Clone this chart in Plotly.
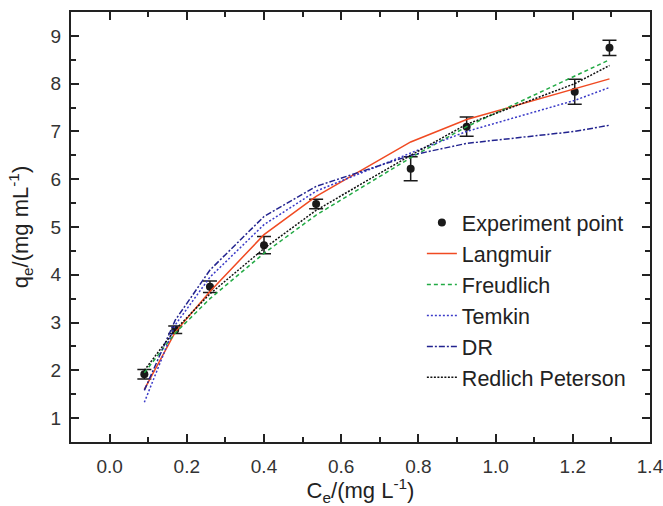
import plotly.graph_objects as go

# Experimental data
ce = [0.09, 0.17, 0.26, 0.40, 0.535, 0.78, 0.925, 1.205, 1.295]
qe = [1.92, 2.85, 3.75, 4.62, 5.48, 6.22, 7.1, 7.83, 8.75]
qe_err = [0.1, 0.08, 0.12, 0.18, 0.1, 0.25, 0.2, 0.26, 0.16]

# Model fits evaluated at the experimental Ce
langmuir = [1.6, 2.8, 3.65, 4.84, 5.64, 6.78, 7.25, 7.9, 8.1]
freundlich = [1.95, 2.78, 3.5, 4.45, 5.25, 6.45, 7.1, 8.15, 8.5]
temkin = [1.33, 2.95, 3.95, 5.05, 5.75, 6.55, 7.0, 7.65, 7.92]
dr = [1.58, 3.05, 4.1, 5.22, 5.85, 6.5, 6.75, 7.0, 7.13]
redlich = [2.0, 2.85, 3.6, 4.55, 5.35, 6.5, 7.15, 8.0, 8.38]

font_family = "Liberation Sans, Arial, sans-serif"

fig = go.Figure()
fig.add_trace(go.Scatter(
    x=ce, y=qe, mode="markers", name="Experiment point",
    marker=dict(color="#1a1a1a", size=8),
    error_y=dict(type="data", array=qe_err, color="#1a1a1a", thickness=1.5, width=7),
))
fig.add_trace(go.Scatter(x=ce, y=langmuir, mode="lines", name="Langmuir",
                         line=dict(color="#f04a22", width=1.5)))
fig.add_trace(go.Scatter(x=ce, y=freundlich, mode="lines", name="Freudlich",
                         line=dict(color="#22aa44", width=1.5, dash="4px,3px")))
fig.add_trace(go.Scatter(x=ce, y=temkin, mode="lines", name="Temkin",
                         line=dict(color="#3a3ac8", width=1.5, dash="2px,2px")))
fig.add_trace(go.Scatter(x=ce, y=dr, mode="lines", name="DR",
                         line=dict(color="#22238f", width=1.5, dash="6px,2px,2px,2px")))
fig.add_trace(go.Scatter(x=ce, y=redlich, mode="lines", name="Redlich Peterson",
                         line=dict(color="#111111", width=1.5, dash="2px,1.5px")))

axis_common = dict(
    showline=True, linecolor="#222222", linewidth=2, mirror="allticks",
    ticks="inside", ticklen=8, tickwidth=1.5, tickcolor="#222222",
    showgrid=False, zeroline=False, automargin=False,
    ticklabeloverflow="allow",
    tickfont=dict(family=font_family, size=19, color="#333333"),
)

fig.update_layout(
    width=663, height=506,
    margin=dict(l=71, r=13, t=12, b=64),
    paper_bgcolor="white", plot_bgcolor="white",
    font=dict(family=font_family, color="#333333"),
    showlegend=True,
    legend=dict(
        x=0.606, y=0.33, xanchor="left", yanchor="middle",
        font=dict(family=font_family, size=21.5, color="#222222"),
        bgcolor="rgba(0,0,0,0)", tracegroupgap=0,
    ),
    xaxis=dict(
        range=[-0.1, 1.4], dtick=0.2, tick0=0, tickformat=".1f",
        ticklabelstandoff=6,
        minor=dict(ticks="inside", ticklen=5, dtick=0.1, tickcolor="#222222", tickwidth=1.5),
        title=dict(text="C<sub>e</sub>/(mg L<sup>-1</sup>)", standoff=18,
                   font=dict(family=font_family, size=22, color="#222222")),
        **axis_common,
    ),
    yaxis=dict(
        range=[0.5, 9.5], dtick=1, tick0=0,
        ticklabelstandoff=4,
        minor=dict(ticks="inside", ticklen=5, dtick=0.5, tickcolor="#222222", tickwidth=1.5),
        title=dict(text="q<sub>e</sub>/(mg mL<sup>-1</sup>)", standoff=16,
                   font=dict(family=font_family, size=22, color="#222222")),
        **axis_common,
    ),
)

fig.write_html("out.html")
